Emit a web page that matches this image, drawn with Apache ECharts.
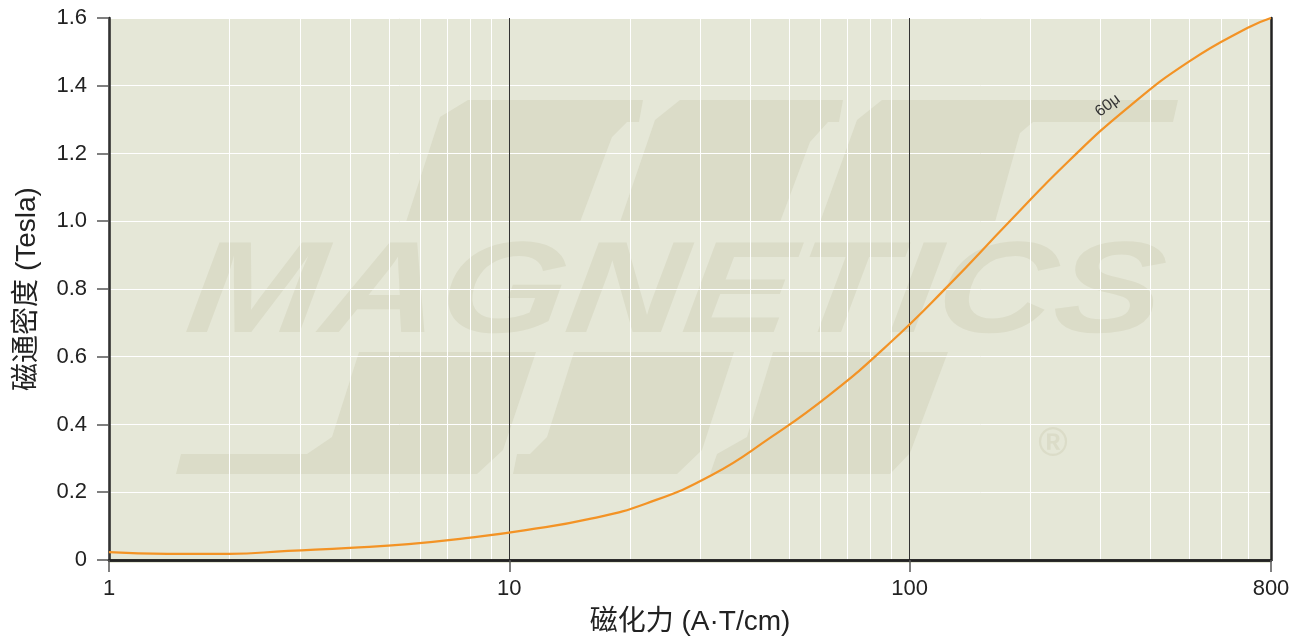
<!DOCTYPE html>
<html>
<head>
<meta charset="utf-8">
<script src="https://cdn.jsdelivr.net/npm/echarts@6/dist/echarts.min.js"></script>
<style>
html, body { margin: 0; padding: 0; background: #fff; }
#chart { width: 1299px; height: 641px; }
</style>
</head>
<body>
<div id="chart"></div>
<script>
// 磁化力 H (A·T/cm) and 磁通密度 B (Tesla)
var fieldH = [1, 1.4, 2, 2.8, 4, 5.6, 8, 11, 16, 22, 32, 45, 63, 89, 125, 178, 250, 355, 500, 700, 800];
var fluxB  = [0.023, 0.018, 0.018, 0.027, 0.036, 0.047, 0.066, 0.088, 0.122, 0.167, 0.250, 0.362, 0.487, 0.639, 0.810, 1.000, 1.178, 1.340, 1.472, 1.571, 1.600];
var curveName = '60μ';
var labelAt = [303, 1.27];

var majorTicks = [1, 10, 100, 800];
var minorTicks = [2, 3, 4, 5, 6, 7, 8, 9, 20, 30, 40, 50, 60, 70, 80, 90, 200, 300, 400, 500, 600, 700];

var font = '"Liberation Sans", Arial, "Noto Sans CJK SC", sans-serif';
var wm = '#dbdcc8';

var chart = echarts.init(document.getElementById('chart'));

var points = fieldH.map(function (h, i) { return [h, fluxB[i]]; });

function poly(pts) {
  return { type: 'polygon', z: -10, silent: true, shape: { points: pts }, style: { fill: wm } };
}

var option = {
  backgroundColor: '#ffffff',
  animation: false,
  grid: { left: 109, right: 28, top: 18, bottom: 78, containLabel: false },
  graphic: [
    { type: 'rect', z: -20, silent: true, shape: { x: 109, y: 18, width: 1162, height: 545 }, style: { fill: '#e5e7d7' } },
    // top bars of the logo
    poly([[468,100],[643,100],[639,122],[627,122],[612,137],[580,222],[406,222],[440,117]]),
    poly([[680,100],[843,100],[839,122],[828,122],[810,142],[780,222],[620,222],[655,120]]),
    poly([[882,100],[1178,100],[1173,122],[1033,122],[1020,133],[995,222],[820,222],[857,120]]),
    // bottom bars of the logo
    poly([[359,352],[536,352],[503,450],[477,474],[176,474],[181,454],[307,454],[332,437]]),
    poly([[574,352],[734,352],[702,450],[677,474],[513,474],[517,454],[530,454],[547,437]]),
    poly([[773,352],[948,352],[910,453],[890,474],[710,474],[717,454],[747,437]]),
    {
      type: 'text', z: -10, silent: true, x: 188, y: 296, scaleX: 1.25, skewX: -0.13,
      style: { text: 'MAGNETICS', font: 'italic bold 130px "Liberation Sans", Arial, sans-serif', fill: wm, align: 'left', verticalAlign: 'middle' }
    },
    {
      type: 'text', z: -10, silent: true, x: 1053, y: 445,
      style: { text: '®', font: 'bold 40px "Liberation Sans", Arial, sans-serif', fill: wm, align: 'center', verticalAlign: 'middle' }
    }
  ],
  xAxis: [
    {
      type: 'log', logBase: 10, min: 1, max: 800, position: 'bottom', z: 3,
      name: '磁化力 (A·T/cm)', nameLocation: 'middle', nameGap: 48,
      nameTextStyle: { fontFamily: font, fontSize: 28, color: '#222' },
      axisLine: { show: true, lineStyle: { color: '#222', width: 2.5 } },
      axisTick: { show: true, customValues: majorTicks, length: 12, lineStyle: { color: '#555', width: 1.5 } },
      axisLabel: { customValues: majorTicks, fontFamily: font, fontSize: 22, color: '#222', margin: 18 },
      splitLine: { show: true, lineStyle: { color: '#333', width: 1 } },
      minorTick: { show: false }
    },
    {
      type: 'log', logBase: 10, min: 1, max: 800, position: 'top', z: 1,
      axisLine: { show: true, lineStyle: { color: '#222', width: 2.5 } },
      axisTick: { show: false, customValues: minorTicks },
      axisLabel: { show: false, customValues: minorTicks },
      splitLine: { show: true, lineStyle: { color: '#ffffff', width: 1 } }
    }
  ],
  yAxis: [
    {
      type: 'value', min: 0, max: 1.6, interval: 0.2, position: 'left', z: 2,
      name: '磁通密度 (Tesla)', nameLocation: 'middle', nameGap: 68,
      nameTextStyle: { fontFamily: font, fontSize: 28, color: '#222' },
      axisLine: { show: true, lineStyle: { color: '#222', width: 2.5 } },
      axisTick: { show: true, length: 12, lineStyle: { color: '#555', width: 1.5 } },
      axisLabel: {
        fontFamily: font, fontSize: 22, color: '#222', margin: 22,
        formatter: function (v) { return v === 0 ? '0' : v.toFixed(1); }
      },
      splitLine: { show: true, lineStyle: { color: '#ffffff', width: 1 } }
    },
    {
      type: 'value', min: 0, max: 1.6, interval: 0.2, position: 'right', z: 3,
      axisLine: { show: true, lineStyle: { color: '#222', width: 2.5 } },
      axisTick: { show: false }, axisLabel: { show: false }, splitLine: { show: false }
    }
  ],
  series: [
    {
      name: curveName, type: 'line', xAxisIndex: 0, yAxisIndex: 0, z: 6,
      data: points, smooth: 0.5, symbol: 'none',
      lineStyle: { color: '#f39325', width: 2.2 },
      markPoint: {
        symbol: 'circle', symbolSize: 0, silent: true,
        label: { show: true, formatter: curveName, color: '#333', fontFamily: font, fontSize: 16, rotate: 37, offset: [19, -16] },
        data: [{ coord: labelAt }]
      }
    }
  ]
};

chart.setOption(option);
</script>
</body>
</html>
